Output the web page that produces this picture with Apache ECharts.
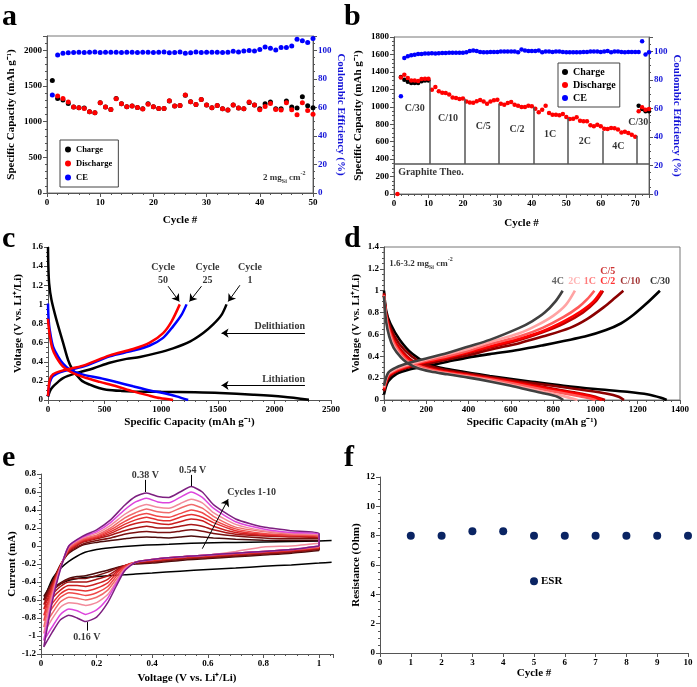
<!DOCTYPE html>
<html><head><meta charset="utf-8">
<script src="https://cdn.jsdelivr.net/npm/echarts@6/dist/echarts.min.js"></script>
<style>html,body{margin:0;padding:0;background:#fff}#c{width:697px;height:687px}</style>
</head><body><div id="c"></div>
<script>
// ---------- Panel a: cycling at 2 mg/cm2 ----------
const aCharge = [1578,1325,1302,1255,1204,1194,1190,1138,1124,1265,1204,1171,1325,1250,1208,1218,1199,1180,1250,1208,1185,1185,1288,1218,1227,1368,1279,1241,1311,1232,1194,1227,1180,1162,1232,1190,1180,1269,1232,1180,1250,1274,1180,1180,1288,1204,1190,1349,1222,1194]; // cycles 1-50
const aDischarge = [1358,1325,1274,1204,1194,1185,1138,1124,1265,1204,1171,1321,1250,1208,1218,1199,1176,1245,1208,1185,1185,1293,1218,1227,1372,1279,1241,1311,1232,1194,1227,1180,1162,1232,1190,1180,1274,1232,1166,1213,1255,1171,1162,1265,1166,1096,1265,1157,1105]; // cycles 2-50
const aCE = [68.6,96.7,97.9,98.2,98.4,98.6,98.4,98.6,98.8,98.4,98.6,98.6,98.6,98.4,98.6,98.6,98.4,98.6,98.6,98.4,98.6,98.8,98.2,98.4,98.8,97.9,98.2,98.8,98.4,98.6,98.6,98.6,98.4,98.6,99.3,98.8,99.5,99.8,99.5,100.5,102.3,101.4,100.2,101.9,101.9,103.0,107.7,106.6,105.4,108.2]; // cycles 1-50

// ---------- Panel b: rate capability ----------
const bDischarge = [0,1335,1368,1330,1300,1300,1295,1318,1320,1322,
  1196,1227,1177,1160,1158,1140,1105,1100,1090,1095,
  1060,1050,1045,1062,1078,1060,1035,1060,1075,1080,
  1036,1024,1043,1055,1024,1013,998,998,1013,1005,
  978,936,967,1013,929,910,910,902,917,883,
  860,862,879,841,833,833,787,776,795,776,
  748,745,757,755,740,705,715,700,680,655,
  948,994,965,975]; // cycles 1-74
const bChargeFirst = [1341,1311,1288,1273,1273,1273,1292,1300,1300]; // cycles 2-10
const bChargeLast = [1013,975,948,948]; // cycles 71-74
const bCE = [68.5,95.3,96.5,97.2,97.6,98.1,98.1,98.4,98.4,98.6,
  98.4,98.6,98.8,98.8,99.0,99.0,99.0,99.0,99.0,99.3,
  100.2,100.5,100.2,99.5,99.3,99.3,99.5,99.5,99.5,99.8,
  99.8,99.8,99.8,99.8,99.3,101.2,100.5,100.2,100.2,100.2,
  100.5,99.3,99.8,99.8,99.5,99.8,99.8,99.5,99.3,99.3,
  99.3,99.3,99.3,99.5,99.5,99.8,99.8,99.8,99.5,99.8,
  100.2,99.3,99.8,99.8,99.5,99.3,99.5,99.5,99.5,99.5,
  107.0,97.7,99.3]; // cycles 2-74
const bRates = ['C/30','C/10','C/5','C/2','1C','2C','4C','C/30'];
const bSepCycles = [10.5,20.5,30.5,40.5,50.5,60.5,70.5];
const bSepTops = [1292,1093,1034,998,871,722,669];
const bGraphite = 345;

// ---------- Panel c: voltage profiles, cycles 1/25/50 ----------
const c1Lith = [[0,1.6],[3,1.4],[10,1.22],[30,1.05],[74,0.84],[133,0.6],[177,0.42],[215,0.32],[250,0.265],[300,0.2],[369,0.16],[450,0.125],[516,0.108],[650,0.095],[752,0.09],[1000,0.085],[1300,0.08],[1518,0.073],[1813,0.056],[2078,0.035],[2305,0.003]];
const c1Delith = [[0,0.035],[20,0.1],[44,0.14],[90,0.19],[133,0.23],[250,0.28],[398,0.33],[545,0.39],[693,0.43],[811,0.45],[958,0.49],[1105,0.54],[1253,0.61],[1371,0.7],[1459,0.79],[1533,0.89],[1577,1.0]];
const c25Lith = [[0,1.01],[5,0.85],[15,0.735],[44,0.56],[88,0.457],[133,0.38],[192,0.317],[310,0.265],[457,0.23],[604,0.188],[752,0.143],[899,0.1],[1047,0.066],[1135,0.038],[1238,0.0]];
const c25Delith = [[0,0.04],[15,0.18],[44,0.25],[133,0.3],[310,0.35],[545,0.457],[752,0.516],[899,0.57],[1017,0.65],[1105,0.77],[1179,0.89],[1224,1.0]];
const c50Lith = [[0,0.85],[3,0.8],[15,0.68],[38,0.54],[74,0.446],[133,0.35],[221,0.28],[339,0.23],[457,0.19],[604,0.143],[752,0.09],[899,0.045],[988,0.02],[1105,0.0]];
const c50Delith = [[0,0.04],[15,0.21],[44,0.27],[133,0.31],[310,0.36],[545,0.467],[752,0.533],[899,0.6],[1017,0.7],[1091,0.82],[1164,1.0]];

// ---------- Panel d: voltage profiles at different rates ----------
const dNames = ['C/30','C/10','C/5','C/2','1C','2C','4C'];
const dDelith = [
  [[0,0.05],[20,0.17],[60,0.24],[120,0.28],[200,0.31],[300,0.35],[400,0.39],[500,0.42],[640,0.46],[750,0.5],[850,0.54],[950,0.58],[1050,0.64],[1120,0.7],[1180,0.78],[1240,0.88],[1305,1.0]],
  [[0,0.08],[20,0.2],[60,0.26],[120,0.3],[200,0.33],[300,0.37],[400,0.41],[500,0.46],[640,0.52],[750,0.58],[880,0.66],[960,0.74],[1040,0.85],[1090,0.93],[1132,1.0]],
  [[0,0.09],[20,0.21],[60,0.27],[120,0.31],[200,0.345],[300,0.385],[400,0.43],[500,0.48],[640,0.55],[750,0.62],[850,0.7],[940,0.8],[1000,0.9],[1036,1.0]],
  [[0,0.1],[20,0.22],[60,0.27],[120,0.31],[200,0.35],[300,0.39],[400,0.44],[500,0.49],[640,0.56],[750,0.63],[850,0.72],[930,0.81],[990,0.9],[1029,1.0]],
  [[0,0.11],[20,0.23],[60,0.28],[120,0.32],[200,0.36],[300,0.4],[400,0.45],[500,0.51],[640,0.58],[750,0.66],[850,0.76],[920,0.85],[960,0.92],[995,1.0]],
  [[0,0.12],[20,0.24],[60,0.29],[120,0.33],[200,0.37],[300,0.42],[400,0.47],[500,0.53],[640,0.61],[720,0.68],[800,0.77],[860,0.87],[903,1.0]],
  [[0,0.13],[20,0.25],[60,0.3],[120,0.34],[200,0.38],[300,0.43],[400,0.49],[500,0.55],[640,0.66],[700,0.72],[760,0.8],[810,0.9],[845,1.0]]
];
const dLith = [
  [[0,1.0],[10,0.82],[30,0.7],[75,0.55],[135,0.42],[210,0.33],[280,0.29],[370,0.26],[500,0.22],[690,0.17],[850,0.13],[1000,0.1],[1150,0.075],[1250,0.05],[1310,0.02],[1337,0.0]],
  [[0,0.98],[10,0.8],[30,0.66],[70,0.52],[130,0.4],[200,0.32],[280,0.28],[370,0.25],[500,0.21],[640,0.17],[800,0.13],[950,0.09],[1050,0.06],[1110,0.03],[1135,0.0]],
  [[0,0.97],[10,0.78],[28,0.64],[60,0.51],[120,0.38],[190,0.31],[270,0.27],[370,0.24],[500,0.2],[640,0.16],[780,0.11],[900,0.07],[990,0.035],[1045,0.0]],
  [[0,0.96],[10,0.77],[27,0.63],[58,0.5],[115,0.37],[185,0.3],[270,0.265],[370,0.235],[500,0.195],[640,0.15],[780,0.1],[900,0.06],[980,0.03],[1030,0.0]],
  [[0,0.96],[10,0.76],[26,0.62],[55,0.49],[110,0.36],[180,0.3],[260,0.26],[360,0.23],[500,0.19],[640,0.14],[770,0.09],[880,0.05],[960,0.02],[1000,0.0]],
  [[0,0.95],[10,0.74],[25,0.6],[50,0.48],[100,0.36],[170,0.29],[250,0.255],[350,0.225],[480,0.185],[620,0.13],[740,0.08],[840,0.04],[915,0.0]],
  [[0,0.95],[10,0.72],[25,0.58],[45,0.48],[80,0.39],[110,0.34],[160,0.29],[220,0.26],[300,0.235],[400,0.205],[500,0.17],[600,0.13],[690,0.09],[760,0.06],[820,0.03],[848,0.0]]
];
const dColors = ['#000000','#8b0000','#c00000','#ff0000','#ff5a5a','#ffa3a3','#404040'];

// ---------- Panel e: cyclic voltammetry ----------
const eVc = [1.0,0.9,0.8,0.7,0.6,0.5,0.4,0.34,0.3,0.27,0.24,0.2,0.16,0.13,0.1,0.07,0.04,0.01];
const eVa = [0.01,0.04,0.07,0.1,0.15,0.2,0.25,0.3,0.34,0.38,0.42,0.46,0.5,0.54,0.58,0.62,0.7,0.8,0.9,1.0];
const eCathodic = [
  [-0.05,-0.08,-0.1,-0.12,-0.14,-0.16,-0.19,-0.2,-0.22,-0.24,-0.27,-0.3,-0.33,-0.34,-0.36,-0.41,-0.48,-0.56],
  [-0.04,-0.07,-0.09,-0.11,-0.13,-0.15,-0.18,-0.19,-0.22,-0.25,-0.29,-0.33,-0.36,-0.36,-0.37,-0.42,-0.5,-0.6],
  [-0.03,-0.06,-0.08,-0.1,-0.12,-0.14,-0.17,-0.19,-0.22,-0.27,-0.33,-0.37,-0.4,-0.4,-0.4,-0.45,-0.54,-0.65],
  [-0.02,-0.05,-0.07,-0.09,-0.11,-0.13,-0.16,-0.18,-0.22,-0.29,-0.37,-0.42,-0.45,-0.44,-0.44,-0.49,-0.58,-0.7],
  [-0.02,-0.05,-0.07,-0.09,-0.11,-0.13,-0.16,-0.18,-0.23,-0.31,-0.41,-0.47,-0.5,-0.49,-0.48,-0.53,-0.64,-0.77],
  [-0.01,-0.04,-0.06,-0.08,-0.1,-0.12,-0.15,-0.18,-0.24,-0.34,-0.45,-0.52,-0.55,-0.53,-0.52,-0.57,-0.69,-0.83],
  [-0.01,-0.04,-0.06,-0.08,-0.1,-0.12,-0.15,-0.18,-0.25,-0.37,-0.49,-0.57,-0.6,-0.58,-0.57,-0.62,-0.75,-0.9],
  [0.03,0.0,-0.01,-0.06,-0.1,-0.12,-0.15,-0.18,-0.26,-0.4,-0.54,-0.63,-0.66,-0.64,-0.63,-0.68,-0.81,-0.97],
  [0.0,-0.04,-0.06,-0.08,-0.1,-0.12,-0.15,-0.18,-0.27,-0.42,-0.58,-0.71,-0.76,-0.72,-0.7,-0.76,-0.9,-1.05],
  [0.0,-0.04,-0.06,-0.08,-0.1,-0.12,-0.15,-0.18,-0.28,-0.45,-0.63,-0.79,-0.84,-0.8,-0.77,-0.82,-0.96,-1.12]
];
const eAnodic = [
  [-0.56,-0.4,-0.21,-0.08,0.01,0.04,0.06,0.08,0.095,0.1,0.095,0.09,0.1,0.11,0.1,0.09,0.075,0.065,0.06,0.06],
  [-0.6,-0.41,-0.21,-0.07,0.02,0.06,0.09,0.13,0.15,0.16,0.15,0.15,0.165,0.18,0.165,0.14,0.11,0.09,0.08,0.08],
  [-0.65,-0.43,-0.22,-0.06,0.04,0.08,0.12,0.17,0.2,0.22,0.2,0.2,0.22,0.24,0.22,0.18,0.13,0.11,0.1,0.09],
  [-0.7,-0.45,-0.22,-0.05,0.05,0.09,0.14,0.21,0.25,0.27,0.25,0.24,0.27,0.3,0.28,0.22,0.15,0.12,0.11,0.1],
  [-0.77,-0.48,-0.23,-0.04,0.06,0.1,0.16,0.24,0.29,0.32,0.29,0.28,0.32,0.35,0.32,0.26,0.17,0.13,0.12,0.11],
  [-0.83,-0.5,-0.23,-0.03,0.07,0.11,0.18,0.27,0.33,0.36,0.33,0.32,0.36,0.4,0.37,0.29,0.19,0.14,0.12,0.11],
  [-0.9,-0.53,-0.24,-0.02,0.08,0.12,0.2,0.31,0.37,0.41,0.38,0.37,0.42,0.46,0.42,0.33,0.21,0.16,0.13,0.12],
  [-0.97,-0.56,-0.24,-0.01,0.09,0.14,0.23,0.35,0.42,0.46,0.43,0.42,0.47,0.52,0.48,0.37,0.24,0.17,0.14,0.12],
  [-1.05,-0.6,-0.25,0.0,0.1,0.16,0.26,0.4,0.49,0.53,0.49,0.48,0.54,0.6,0.54,0.42,0.27,0.19,0.15,0.13],
  [-1.12,-0.63,-0.26,0.0,0.11,0.18,0.29,0.45,0.55,0.59,0.55,0.54,0.6,0.66,0.6,0.46,0.3,0.21,0.17,0.14]
];
const eFirstCathodic = [[1.045,-0.18],[1.0,-0.19],[0.9,-0.21],[0.8,-0.225],[0.7,-0.245],[0.6,-0.26],[0.5,-0.28],[0.4,-0.3],[0.34,-0.31],[0.3,-0.32],[0.27,-0.325],[0.24,-0.33],[0.2,-0.34],[0.16,-0.35],[0.13,-0.36],[0.1,-0.38],[0.07,-0.42],[0.04,-0.49],[0.01,-0.6]];
const eFirstAnodic = [[0.01,-0.6],[0.04,-0.37],[0.07,-0.25],[0.1,-0.17],[0.15,-0.08],[0.2,-0.04],[0.25,-0.02],[0.3,-0.005],[0.38,0.01],[0.46,0.02],[0.54,0.03],[0.62,0.035],[0.7,0.04],[0.8,0.045],[0.9,0.05],[1.0,0.055],[1.045,0.06]];
const eColors = ['#4a0c0c','#7a1010','#a81515','#cc1f1f','#e43030','#f04848','#f06a6a','#f28a9a','#dd44dd','#7d1f80'];

// ---------- Panel f: ESR ----------
const fCycles = [1,2,3,4,5,6,7,8,9,10];
const fRes = [8,8,8.3,8.3,8,8,8,8,8,8];

// ================= build chart =================
const F = 'Liberation Serif';
function merge(a,b){const o=Object.assign({},a);for(const k in b){const v=b[k];if(v&&typeof v==='object'&&!Array.isArray(v)&&a[k]&&typeof a[k]==='object'&&!Array.isArray(a[k]))o[k]=merge(a[k],v);else o[k]=v;}return o;}
const AX = '#555';
const fmt = v => String(Math.round(v*1e6)/1e6);
const baseAxis = {type:'value', nameLocation:'middle',
  axisLine:{show:true,onZero:false,lineStyle:{color:AX,width:1}},
  axisTick:{show:true,length:4,lineStyle:{color:AX}},
  minorTick:{show:true,length:2,splitNumber:5,lineStyle:{color:AX}},
  splitLine:{show:false}, minorSplitLine:{show:false},
  axisLabel:{fontFamily:F,fontWeight:'bold',fontSize:9,color:'#000',margin:5,formatter:fmt},
  nameTextStyle:{fontFamily:F,fontWeight:'bold',fontSize:11,color:'#000'}};
const ax = o => merge(baseAxis,o);
const BLUE = '#1414d8';
const capName = 'Specific Capacity (mAh g\u207B\u00B9)';
const voltName = 'Voltage (V vs. Li\u207A/Li)';

const grid = [
  {left:47,top:36,width:266,height:157,show:true,borderColor:'#777',borderWidth:1},
  {left:394,top:37,width:255,height:157,show:true,borderColor:'#777',borderWidth:1},
  {left:48,top:247,width:283,height:153},
  {left:384,top:247,width:296,height:153,show:true,borderColor:'#777',borderWidth:1},
  {left:41,top:474,width:292,height:180},
  {left:380,top:477,width:308,height:176}
];
const xAxis = [
  ax({gridIndex:0,min:0,max:50,interval:10,name:'Cycle #',nameGap:22}),
  ax({gridIndex:1,min:0,max:74,interval:10,name:'Cycle #',nameGap:24,axisLabel:{showMaxLabel:false}}),
  ax({gridIndex:2,min:0,max:2500,interval:500,name:capName,nameGap:17}),
  ax({gridIndex:3,min:0,max:1400,interval:200,name:capName,nameGap:17}),
  ax({gridIndex:4,min:0,max:1.05,interval:0.2,name:voltName,nameGap:19,axisLabel:{showMaxLabel:false}}),
  ax({gridIndex:5,min:0,max:10,interval:1,name:'Cycle #',nameGap:13,minorTick:{show:false}})
];
const yAxis = [
  ax({gridIndex:0,min:0,max:2200,interval:500,name:capName,nameGap:30,axisLabel:{showMaxLabel:false}}),
  ax({gridIndex:0,position:'right',min:0,max:110,interval:20,name:'Coulombic Efficiency (%)',nameRotate:-90,nameGap:20,
      axisLabel:{showMaxLabel:false,color:BLUE},nameTextStyle:{color:BLUE},minorTick:{splitNumber:4}}),
  ax({gridIndex:1,min:0,max:1800,interval:200,name:capName,nameGap:30,minorTick:{splitNumber:4}}),
  ax({gridIndex:1,position:'right',min:0,max:110,interval:20,name:'Coulombic Efficiency (%)',nameRotate:-90,nameGap:22,
      axisLabel:{showMaxLabel:false,color:BLUE},nameTextStyle:{color:BLUE},minorTick:{splitNumber:4}}),
  ax({gridIndex:2,min:0,max:1.6,interval:0.2,name:voltName,nameGap:24,minorTick:{splitNumber:4}}),
  ax({gridIndex:3,min:0,max:1.4,interval:0.2,name:voltName,nameGap:22,minorTick:{splitNumber:4}}),
  ax({gridIndex:4,min:-1.2,max:0.8,interval:0.2,name:'Current (mA)',nameGap:23,minorTick:{splitNumber:4}}),
  ax({gridIndex:5,min:0,max:12,interval:2,name:'Resistance (Ohm)',nameGap:18,minorTick:{splitNumber:4}})
];

const series = [];
const dot = (name,xi,yi,data,color,size) => ({type:'scatter',name,xAxisIndex:xi,yAxisIndex:yi,data,symbolSize:size,itemStyle:{color,opacity:1},silent:true});
const line = (xi,yi,data,color,w,extra) => Object.assign({type:'line',xAxisIndex:xi,yAxisIndex:yi,data,showSymbol:false,symbol:'none',smooth:0.3,lineStyle:{color,width:w},silent:true},extra||{});
const richBase = {
  m:{fontFamily:F,fontWeight:'bold',fontSize:9,lineHeight:14,verticalAlign:'middle',color:'#000'},
  s:{fontFamily:F,fontWeight:'bold',fontSize:6,lineHeight:6,verticalAlign:'bottom',color:'#000'},
  p:{fontFamily:F,fontWeight:'bold',fontSize:6,lineHeight:6,verticalAlign:'top',color:'#000'}
};
function txt(xi,yi,items,extra){
  return Object.assign({type:'scatter',xAxisIndex:xi,yAxisIndex:yi,symbolSize:1,itemStyle:{color:'transparent'},silent:true,z:10,clip:false,
    data:items.map(it=>({value:[it[0],it[1]],label:{show:true,formatter:it[2],position:'inside',align:it[3]||'center',verticalAlign:'middle',
      color:it[4]||'#000',fontFamily:F,fontWeight:'bold',fontSize:it[5]||10,lineHeight:Math.round((it[5]||10)*1.3),rich:richBase}}))},extra||{});
}
function arrows(pairs){
  return {silent:true,symbol:['none','arrow'],symbolSize:7,label:{show:false},emphasis:{disabled:true},animation:false,
    lineStyle:{color:'#000',width:1,type:'solid'},
    data:pairs.map(p=>[{coord:p[0]},{coord:p[1]}])};
}
function plainLines(pairs,color,width,extraData){
  return {silent:true,symbol:['none','none'],label:{show:false},emphasis:{disabled:true},animation:false,
    lineStyle:{color,width,type:'solid'},
    data:pairs.map(p=>[{coord:p[0]},{coord:p[1]}]).concat(extraData||[])};
}

// Panel a
series.push(dot('Charge',0,0,aCharge.map((v,i)=>[i+1,v]),'#000',5));
series.push(dot('Discharge',0,0,aDischarge.map((v,i)=>[i+2,v]),'#ff0000',5));
series.push(dot('CE',0,1,aCE.map((v,i)=>[i+1,v]),'#0000ff',5));
series.push(txt(0,0,[[48.6,215,'{m|2 mg}{s|Si}{m| cm}{p|-2}','right']]));

// Panel b
series.push(dot('Charge',1,2,bChargeFirst.map((v,i)=>[i+2,v]),'#000',4.5));
series.push(dot('Charge',1,2,bChargeLast.map((v,i)=>[i+71,v]),'#000',4.5));
series.push(dot('Discharge',1,2,bDischarge.map((v,i)=>[i+1,v]),'#ff0000',4.5));
series.push(dot('CE',1,3,bCE.map((v,i)=>[i+2,v]),'#0000ff',4.5));
const bSep = bSepCycles.map((c,i)=>[[c,bGraphite],[c,bSepTops[i]]]);
series.push(txt(1,2,[
  [6,980,bRates[0]],[15.7,871,bRates[1]],[25.9,776,bRates[2]],[35.7,738,bRates[3]],[45.3,680,bRates[4]],[55.4,604,bRates[5]],[65.1,548,bRates[6]],[70.9,820,bRates[7]],
  [1.2,248,'Graphite Theo.','left']
],{markLine:plainLines(bSep,'#555',1.5,[{yAxis:bGraphite}])}));

// Panel c
series.push(line(2,4,c1Lith,'#000',2.5));
series.push(line(2,4,c1Delith,'#000',2.5));
series.push(line(2,4,c25Lith,'#0000ff',2.5));
series.push(line(2,4,c25Delith,'#0000ff',2.5));
series.push(line(2,4,c50Lith,'#ff0000',2.5));
series.push(line(2,4,c50Delith,'#ff0000',2.5));
series.push(txt(2,4,[
  [1017,1.32,'Cycle\n50'],[1409,1.32,'Cycle\n25'],[1784,1.32,'Cycle\n1'],
  [2270,0.77,'Delithiation','right'],[2270,0.21,'Lithiation','right']
],{markLine:arrows([
  [[1061,1.19],[1160,1.03]],[[1356,1.19],[1250,1.03]],[[1695,1.2],[1592,1.03]],
  [[2270,0.7],[1533,0.7]],[[2270,0.153],[1533,0.153]]
])}));

// Panel d
dNames.forEach((n,i)=>{
  series.push(line(3,5,dDelith[i],dColors[i],2.6));
  series.push(line(3,5,dLith[i],dColors[i],2.6));
});
series.push(txt(3,5,[
  [822,1.087,'4C','center',dColors[6]],[900,1.087,'2C','center',dColors[5]],[974,1.087,'1C','center',dColors[4]],
  [1058,1.087,'C/2','center',dColors[3]],[1058,1.172,'C/5','center',dColors[2]],[1165,1.087,'C/10','center',dColors[1]],
  [1305,1.087,'C/30','center',dColors[0]],
  [25,1.25,'{m|1.6-3.2 mg}{s|Si}{m| cm}{p|-2}','left']
]));

// Panel e
series.push(line(4,6,eFirstCathodic.concat(eFirstAnodic),'#000',1.5,{smooth:0.2}));
eCathodic.forEach((cat,k)=>{
  const d = eVc.map((v,i)=>[v,cat[i]]).concat(eVa.map((v,i)=>[v,eAnodic[k][i]])).concat([[eVc[0],cat[0]]]);
  series.push(line(4,6,d,eColors[k],1.5,{smooth:0.2}));
});
const eArrow = arrows([[[0.58,-0.03],[0.673,0.52]]]);
eArrow.data = eArrow.data.concat([
  [{coord:[0.375,0.735],symbol:'none'},{coord:[0.375,0.6],symbol:'none'}],
  [{coord:[0.54,0.79],symbol:'none'},{coord:[0.54,0.665],symbol:'none'}],
  [{coord:[0.165,-0.94],symbol:'none'},{coord:[0.165,-0.845],symbol:'none'}]
]);
series.push(txt(4,6,[
  [0.375,0.78,'0.38 V'],[0.545,0.84,'0.54 V'],[0.165,-1.02,'0.16 V'],[0.67,0.59,'Cycles 1-10','left']
],{markLine:eArrow}));

// Panel f
series.push(dot('ESR',5,7,fCycles.map((c,i)=>[c,fRes[i]]),'#0a2463',8));
series.push(Object.assign(dot('ESRkey',5,7,[[5,4.9]],'#0a2463',8),{label:{show:true,position:'right',distance:3,formatter:'ESR',fontFamily:F,fontWeight:'bold',fontSize:11,color:'#000'}}));

const legendBase = {data:['Charge','Discharge','CE'],orient:'vertical',icon:'circle',itemWidth:6,itemHeight:6,borderColor:'#444',borderWidth:1,
  selectedMode:false,textStyle:{fontFamily:F,fontWeight:'bold',color:'#000'}};
const legend = [
  Object.assign({},legendBase,{left:60,top:140,padding:[5,6,5,5],itemGap:5,textStyle:Object.assign({},legendBase.textStyle,{fontSize:8.5})}),
  Object.assign({},legendBase,{left:558,top:63,padding:[4,4,4,4],itemGap:3,textStyle:Object.assign({},legendBase.textStyle,{fontSize:10})})
];

const letter = (t,l,tp)=>({type:'text',left:l,top:tp,style:{text:t,font:'bold 30px "Liberation Serif"',fill:'#000'}});
const graphic = [letter('a',2,2),letter('b',344,2),letter('c',2,224),letter('d',344,224),letter('e',2,443),letter('f',344,443)];

const chart = echarts.init(document.getElementById('c'),null,{renderer:'canvas'});
chart.setOption({animation:false,backgroundColor:'#fff',grid,xAxis,yAxis,series,legend,graphic});
</script></body></html>
